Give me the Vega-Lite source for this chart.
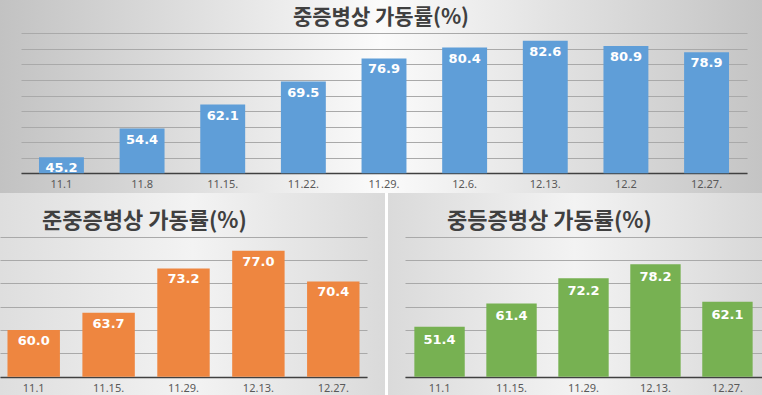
{
  "$schema": "https://vega.github.io/schema/vega-lite/v6.json",
  "padding": 0,
  "background": "white",
  "spacing": 0,
  "config": {
    "view": {"stroke": null},
    "title": {"font": "Noto Sans CJK KR", "fontWeight": "bold", "color": "#404040", "fontSize": 21},
    "axisX": {"labelFont": "Noto Sans", "labelFontSize": 11, "labelColor": "#595959", "labelAngle": 0, "ticks": false, "domainColor": "#404040", "domainWidth": 1.6, "title": null, "labelPadding": 5, "grid": false},
    "axisY": {"labels": false, "ticks": false, "domain": false, "title": null, "gridColor": "#a9a9a9", "gridWidth": 1, "minExtent": 0, "maxExtent": 0}
  },
  "vconcat": [
    {
      "width": 762,
      "height": 193,
      "view": {"fill": {"gradient": "linear", "x1": 0, "y1": 0, "x2": 1, "y2": 0, "stops": [{"offset": 0, "color": "#c2c2c2"}, {"offset": 0.5, "color": "#fbfbfb"}, {"offset": 1, "color": "#c4c4c4"}]}},
      "title": {"text": "중증병상 가동률(%)", "anchor": "middle", "offset": -28},
      "data": {"values": [
        {"date": "11.1", "rate": 45.2},
        {"date": "11.8", "rate": 54.4},
        {"date": "11.15.", "rate": 62.1},
        {"date": "11.22.", "rate": 69.5},
        {"date": "11.29.", "rate": 76.9},
        {"date": "12.6.", "rate": 80.4},
        {"date": "12.13.", "rate": 82.6},
        {"date": "12.2", "rate": 80.9},
        {"date": "12.27.", "rate": 78.9}
      ]},
      "encoding": {
        "x": {"field": "date", "type": "nominal", "sort": null, "scale": {"range": [21, 747], "paddingInner": 0.443, "paddingOuter": 0.223}, "axis": {"offset": -20}},
        "y": {"field": "rate", "type": "quantitative", "scale": {"domain": [33.67, 95.7], "zero": false, "nice": false}, "axis": {"values": [40, 45, 50, 55, 60, 65, 70, 75, 80, 85]}}
      },
      "layer": [
        {"mark": {"type": "bar", "color": "#5f9ed8"}, "encoding": {"y2": {"datum": 40}}},
        {"mark": {"type": "text", "baseline": "top", "dy": 5, "color": "white", "font": "DejaVu Sans", "fontWeight": "bold", "fontSize": 13}, "encoding": {"text": {"field": "rate", "type": "quantitative", "format": ".1f"}}}
      ]
    },
    {
      "spacing": 3,
      "hconcat": [
        {
          "width": 385,
          "height": 202,
          "view": {"fill": {"gradient": "linear", "x1": 0, "y1": 0, "x2": 1, "y2": 0, "stops": [{"offset": 0, "color": "#dedede"}, {"offset": 0.5, "color": "#f3f3f3"}, {"offset": 1, "color": "#dadada"}]}},
          "title": {"text": "준중증병상 가동률(%)", "anchor": "start", "dx": 42, "offset": -40, "fontSize": 22},
          "data": {"values": [
            {"date": "11.1", "rate": 60.0},
            {"date": "11.15.", "rate": 63.7},
            {"date": "11.29.", "rate": 73.2},
            {"date": "12.13.", "rate": 77.0},
            {"date": "12.27.", "rate": 70.4}
          ]},
          "encoding": {
            "x": {"field": "date", "type": "nominal", "sort": null, "scale": {"range": [0, 367], "paddingInner": 0.3, "paddingOuter": 0.1}, "axis": {"offset": -18}},
            "y": {"field": "rate", "type": "quantitative", "scale": {"domain": [46.08, 89.36], "zero": false, "nice": false}, "axis": {"values": [50, 55, 60, 65, 70, 75, 80]}}
          },
          "layer": [
            {"mark": {"type": "bar", "color": "#ee8640"}, "encoding": {"y2": {"datum": 50}}},
            {"mark": {"type": "text", "baseline": "top", "dy": 5, "color": "white", "font": "DejaVu Sans", "fontWeight": "bold", "fontSize": 13}, "encoding": {"text": {"field": "rate", "type": "quantitative", "format": ".1f"}}}
          ]
        },
        {
          "width": 374,
          "height": 202,
          "view": {"fill": {"gradient": "linear", "x1": 0, "y1": 0, "x2": 1, "y2": 0, "stops": [{"offset": 0, "color": "#dadada"}, {"offset": 0.5, "color": "#f3f3f3"}, {"offset": 1, "color": "#d8d8d8"}]}},
          "title": {"text": "중등증병상 가동률(%)", "anchor": "start", "dx": 59, "offset": -40, "fontSize": 22},
          "data": {"values": [
            {"date": "11.1", "rate": 51.4},
            {"date": "11.15.", "rate": 61.4},
            {"date": "11.29.", "rate": 72.2},
            {"date": "12.13.", "rate": 78.2},
            {"date": "12.27.", "rate": 62.1}
          ]},
          "encoding": {
            "x": {"field": "date", "type": "nominal", "sort": null, "scale": {"range": [17, 374], "paddingInner": 0.3, "paddingOuter": 0.13}, "axis": {"offset": -18}},
            "y": {"field": "rate", "type": "quantitative", "scale": {"domain": [22.16, 108.73], "zero": false, "nice": false}, "axis": {"values": [30, 40, 50, 60, 70, 80, 90]}}
          },
          "layer": [
            {"mark": {"type": "bar", "color": "#77b152"}, "encoding": {"y2": {"datum": 30}}},
            {"mark": {"type": "text", "baseline": "top", "dy": 7, "color": "white", "font": "DejaVu Sans", "fontWeight": "bold", "fontSize": 13}, "encoding": {"text": {"field": "rate", "type": "quantitative", "format": ".1f"}}}
          ]
        }
      ]
    }
  ]
}
